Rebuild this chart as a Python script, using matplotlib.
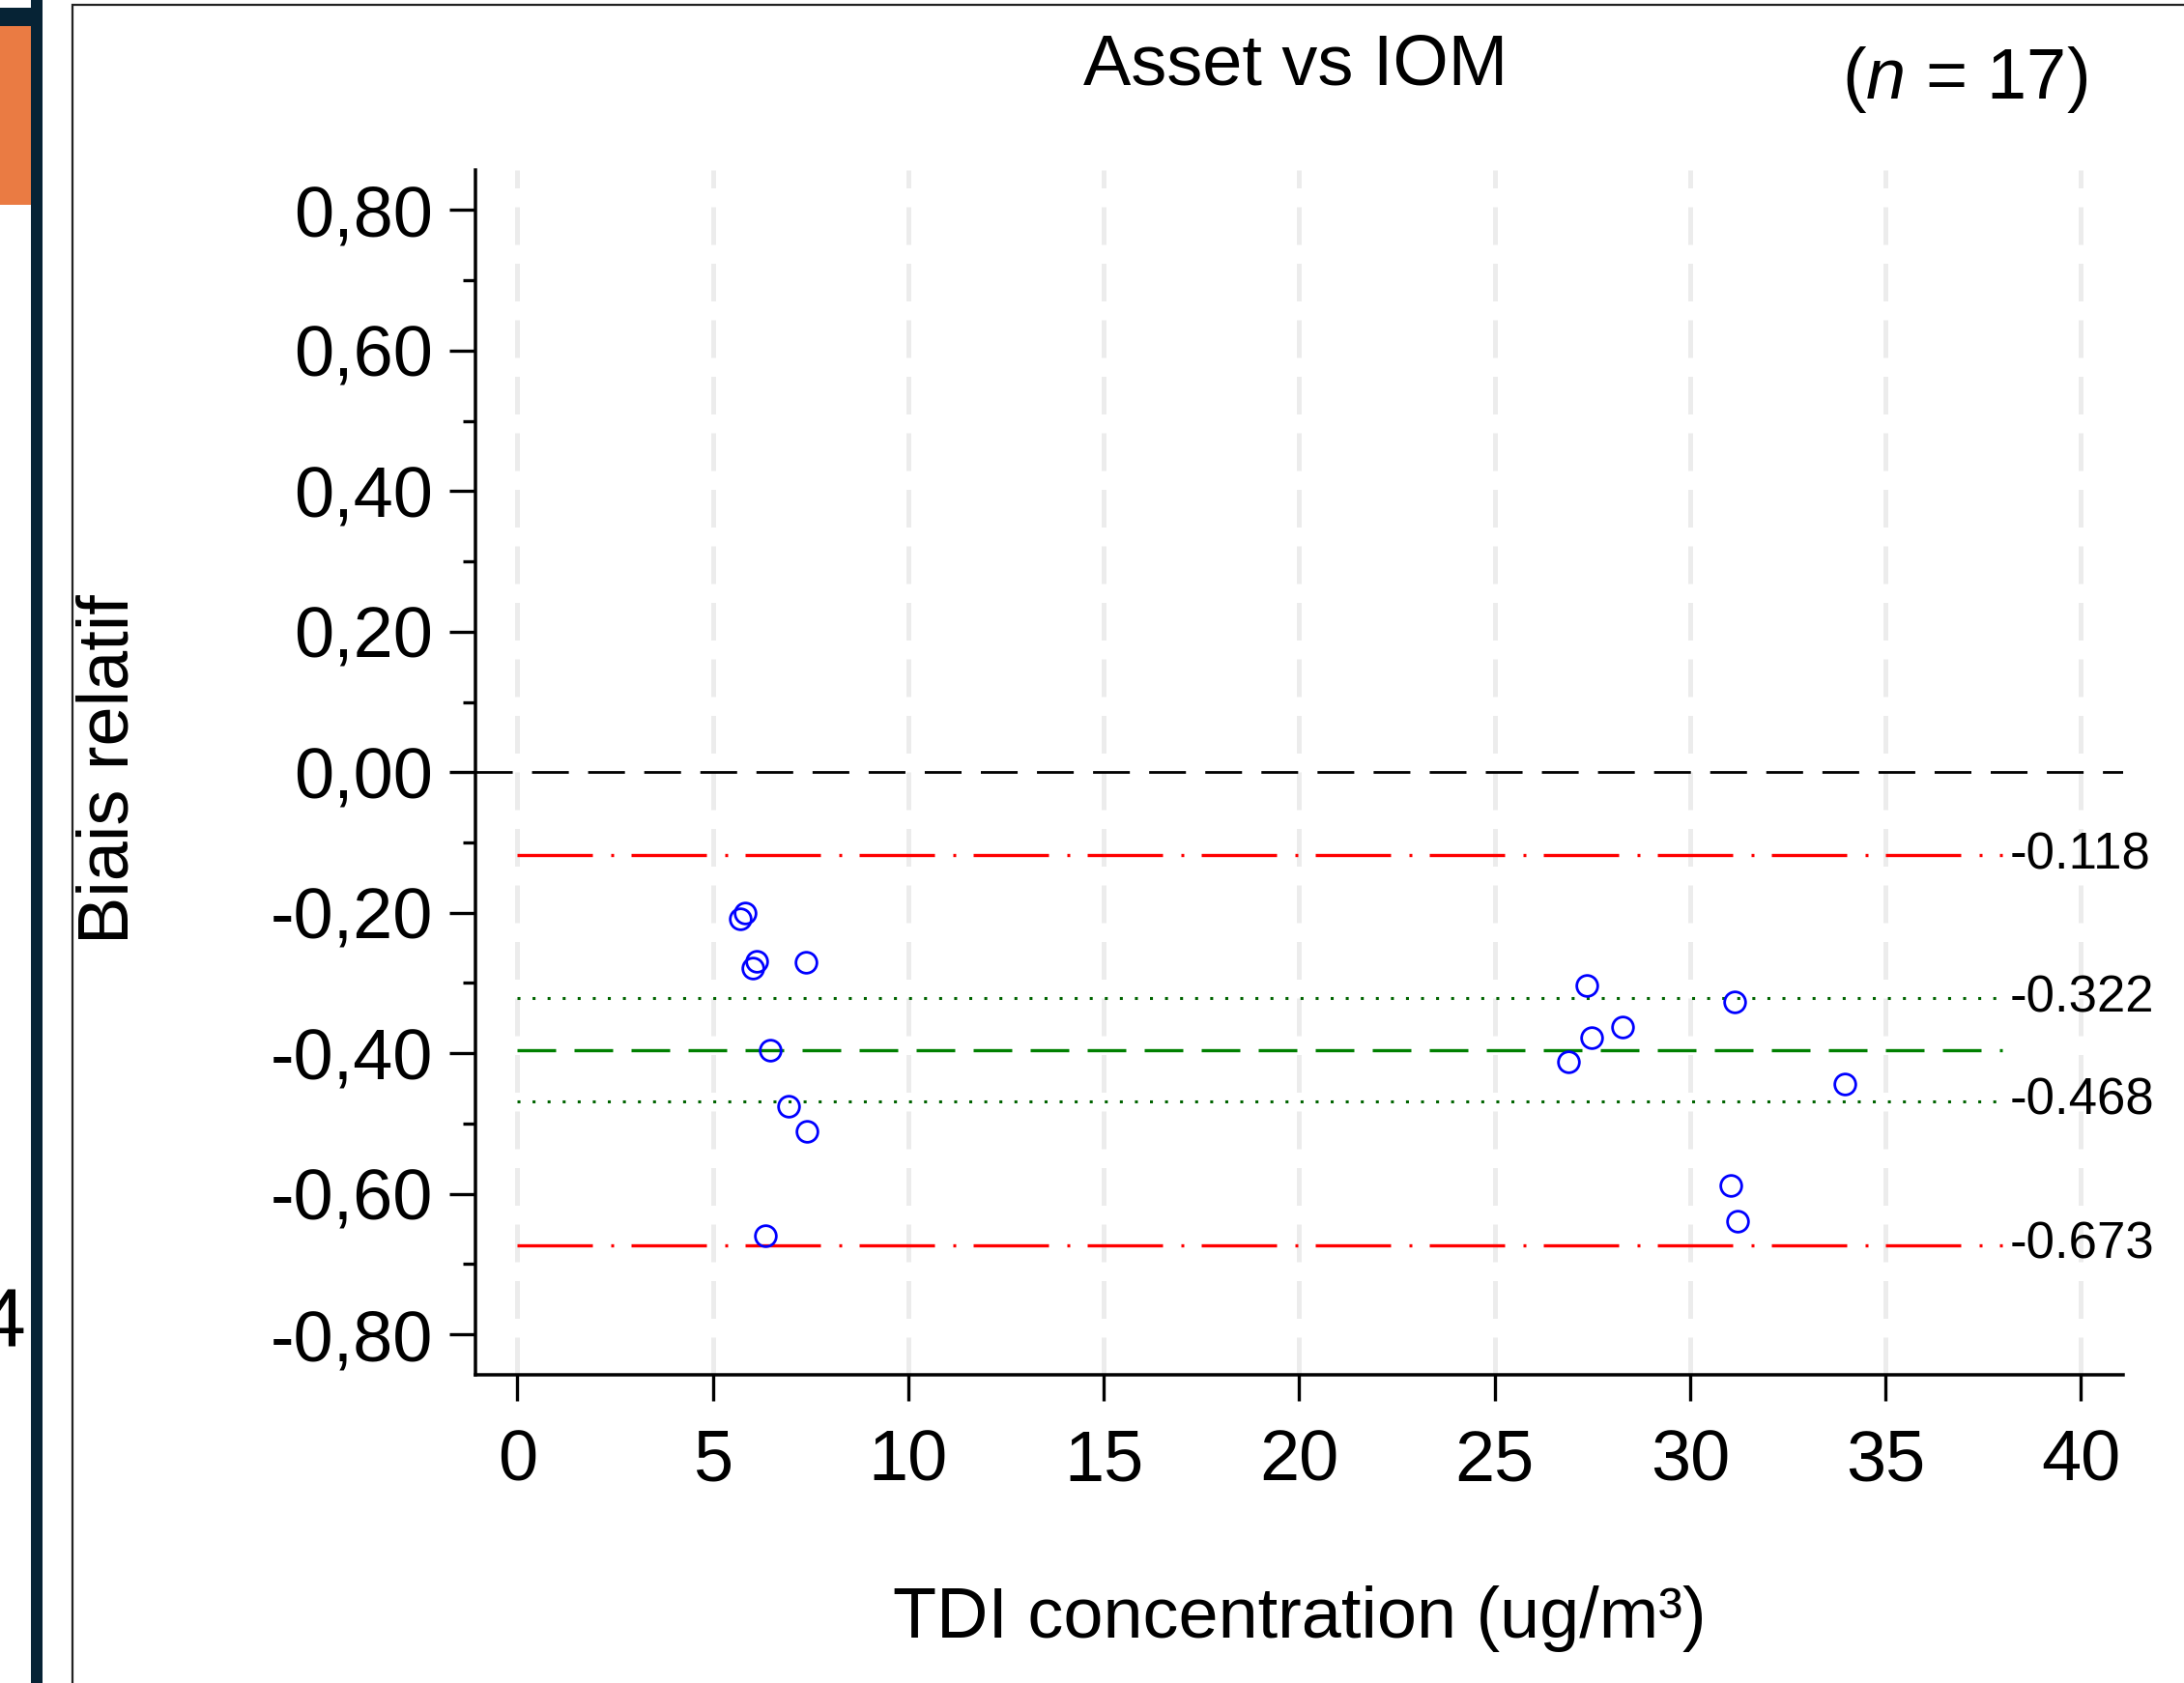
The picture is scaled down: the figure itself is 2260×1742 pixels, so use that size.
import matplotlib.pyplot as plt
from matplotlib.patches import Rectangle
from matplotlib.ticker import FixedLocator, FuncFormatter

# measured points (TDI concentration, relative bias)
tdi_conc = [5.82, 5.71, 6.13, 6.03, 7.38, 6.48, 6.93, 7.41, 6.34,
            27.35, 31.15, 28.28, 27.49, 26.89, 33.96, 31.05, 31.22]
rel_bias = [-0.200, -0.209, -0.269, -0.279, -0.271, -0.396, -0.475, -0.511, -0.659,
            -0.304, -0.327, -0.363, -0.378, -0.412, -0.444, -0.588, -0.639]

mean_bias = -0.3955
limits_of_agreement = [-0.118, -0.673]
mean_ci = [-0.322, -0.468]
line_span = [0, 38]

x_ticks = [0, 5, 10, 15, 20, 25, 30, 35, 40]
y_ticks = [-0.8, -0.6, -0.4, -0.2, 0.0, 0.2, 0.4, 0.6, 0.8]
y_minor = [-0.7, -0.5, -0.3, -0.1, 0.1, 0.3, 0.5, 0.7]

W, H = 2260, 1742
DPI = 200

plt.rcParams["font.family"] = ["Liberation Sans", "DejaVu Sans"]
plt.rcParams["mathtext.fontset"] = "custom"
plt.rcParams["mathtext.it"] = "Liberation Sans:italic"
plt.rcParams["mathtext.rm"] = "Liberation Sans"

fig = plt.figure(figsize=(W / DPI, H / DPI), dpi=DPI)


def fx(px):
    return px / W


def fy(py):
    return 1 - py / H


def fig_rect(x0, y0, x1, y1, color):
    fig.add_artist(Rectangle((fx(x0), fy(y1)), fx(x1) - fx(x0), fy(y0) - fy(y1),
                             transform=fig.transFigure, facecolor=color,
                             edgecolor="none"))


# slide leftovers on the left edge (cropped in the source too)
fig_rect(0, 27, 32, 212, "#ea7b43")
fig_rect(32, 0, 44, H, "#062335")
fig_rect(0, 8, 44, 27, "#062335")
fig.add_artist(Rectangle((fx(75), fy(H + 10)), 1.2, fy(5) - fy(H + 10),
                         transform=fig.transFigure, facecolor="none",
                         edgecolor="#222222", linewidth=0.8))
fig.text(fx(27), fy(1371), "4", ha="right", va="center", fontsize=31)

ax = fig.add_axes([fx(491.7), fy(1423.3), fx(2197) - fx(491.7), fy(176) - fy(1423.3)])
ax.set_xlim(-1.08, 41.08)
ax.set_ylim(-0.858, 0.857)

ax.grid(True, axis="x", color="#ececec", linewidth=1.8, linestyle=(0, (7.8, 3.9)))
ax.set_axisbelow(True)

ax.axhline(0, color="black", linewidth=1.0, linestyle=(0, (13.7, 7.2)), zorder=2)

for val in limits_of_agreement:
    ax.plot(line_span, [val, val], color="red", linewidth=1.2,
            linestyle=(0, (23.4, 5.7, 0.9, 5.4)), zorder=2)
for val in mean_ci:
    ax.plot(line_span, [val, val], color="#006400", linewidth=1.1,
            linestyle=(0, (1.0, 4.1)), zorder=2)
ax.plot(line_span, [mean_bias, mean_bias], color="green", linewidth=1.2,
        linestyle=(0, (12.0, 5.7)), zorder=2)

for val in limits_of_agreement + mean_ci:
    ax.text(38.17, val, f"{val:.3f}", ha="left", va="center", fontsize=19,
            clip_on=False)

ax.plot(tdi_conc, rel_bias, linestyle="none", marker="o", markersize=7.8,
        markerfacecolor="none", markeredgecolor="blue", markeredgewidth=1.0,
        zorder=3)

for side in ["top", "right"]:
    ax.spines[side].set_visible(False)
for side in ["left", "bottom"]:
    ax.spines[side].set_linewidth(1.26)

ax.xaxis.set_major_locator(FixedLocator(x_ticks))
ax.yaxis.set_major_locator(FixedLocator(y_ticks))
ax.yaxis.set_minor_locator(FixedLocator(y_minor))
ax.yaxis.set_major_formatter(FuncFormatter(lambda v, _: f"{v:.2f}".replace(".", ",")))
ax.tick_params(axis="both", which="major", length=9.7, width=1.2, labelsize=26.6)
ax.tick_params(axis="y", which="major", pad=6)
ax.tick_params(axis="x", which="major", pad=10)
ax.tick_params(axis="y", which="minor", length=4.7, width=1.2)

ax.set_xlabel("TDI concentration (ug/m³)", fontsize=26.6, va="center")
ax.xaxis.set_label_coords(0.5, -0.202)
ax.set_ylabel("Biais relatif", fontsize=26.6, va="center")
ax.yaxis.set_label_coords(-0.222, 0.503)

fig.text(fx(1341), fy(88), "Asset vs IOM", ha="center", va="baseline", fontsize=26.6)
fig.text(fx(2033), fy(102), r"($\it{n}$ = 17)", ha="center", va="baseline", fontsize=26.6)

fig.savefig("out.png", dpi=DPI)
